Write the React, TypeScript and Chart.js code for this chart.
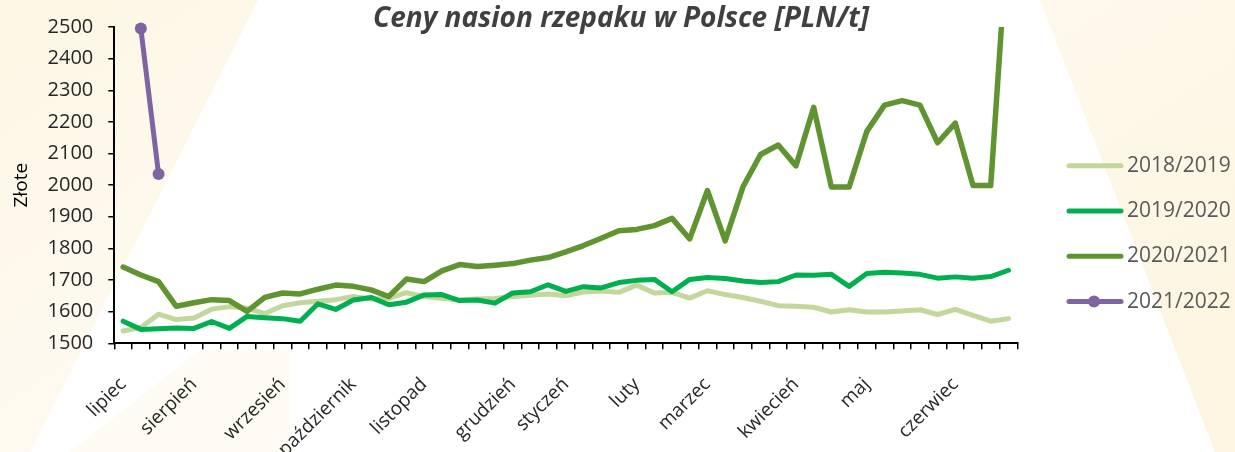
import React, { useEffect, useRef } from 'react';
import { Chart, registerables } from 'chart.js';

Chart.register(...registerables);

const weekLabels: string[] = [
  'lipiec', '', '', '', 'sierpień', '', '', '', '', 'wrzesień', '', '', '',
  'październik', '', '', '', 'listopad', '', '', '', '', 'grudzień', '', '',
  'styczeń', '', '', '', 'luty', '', '', '', 'marzec', '', '', '', '',
  'kwiecień', '', '', '', 'maj', '', '', '', '', 'czerwiec', '', '', '',
];

const seasonNames: string[] = ['2018/2019', '2019/2020', '2020/2021', '2021/2022'];

const prices2018: number[] = [
  1539, 1550, 1592, 1575, 1580, 1608, 1616, 1611, 1594, 1619,
  1628, 1633, 1638, 1648, 1640, 1642, 1660, 1648, 1642, 1637,
  1640, 1642, 1648, 1652, 1656, 1650, 1662, 1665, 1661, 1684,
  1659, 1661, 1643, 1666, 1654, 1645, 1633, 1619, 1617, 1614,
  1599, 1606, 1599, 1599, 1602, 1606, 1591, 1607, 1588, 1570,
  1578,
];

const prices2019: number[] = [
  1570, 1544, 1546, 1548, 1547, 1569, 1547, 1585, 1581, 1578,
  1570, 1625, 1607, 1637, 1645, 1622, 1630, 1653, 1654, 1635,
  1637, 1627, 1659, 1663, 1685, 1664, 1679, 1675, 1692, 1699,
  1702, 1663, 1702, 1708, 1705, 1697, 1692, 1695, 1716, 1715,
  1718, 1680, 1721, 1725, 1722, 1718, 1706, 1710, 1706, 1711,
  1731,
];

const prices2020: number[] = [
  1741, 1716, 1695, 1617, 1628, 1638, 1635, 1601, 1645, 1659,
  1656, 1671, 1684, 1680, 1669, 1648, 1703, 1695, 1729, 1749,
  1743, 1747, 1752, 1763, 1771, 1789, 1809, 1832, 1856, 1860,
  1872, 1895, 1830, 1983, 1824, 1994, 2097, 2127, 2061, 2246,
  1994, 1994, 2170, 2253, 2267, 2253, 2134, 2196, 1999, 1999,
  2830,
];

const prices2021: (number | null)[] = [null, 2495, 2035];

const seasonColors: string[] = ['#C3D69B', '#00B050', '#5F9430', '#8064A2'];

const yMin = 1500;
const yMax = 2500;
const yStep = 100;

const titleText = 'Ceny nasion rzepaku w Polsce [PLN/t]';
const yAxisTitle = 'Złote';

const backgroundPlugin = {
  id: 'rays',
  beforeDraw(chart: any) {
    const { ctx, width, height } = chart;
    ctx.save();
    ctx.fillStyle = '#ffffff';
    ctx.fillRect(0, 0, width, height);
    // left ray
    let g = ctx.createLinearGradient(0, 0, 200, 300);
    g.addColorStop(0, 'rgba(253,246,228,1)');
    g.addColorStop(1, 'rgba(254,250,240,1)');
    ctx.fillStyle = g;
    ctx.beginPath();
    ctx.moveTo(0, 0);
    ctx.lineTo(258, 0);
    ctx.lineTo(30, 452);
    ctx.lineTo(0, 452);
    ctx.closePath();
    ctx.fill();
    // bottom faint fan
    ctx.fillStyle = 'rgba(254,251,242,1)';
    ctx.beginPath();
    ctx.moveTo(70, 452);
    ctx.lineTo(200, 350);
    ctx.lineTo(290, 350);
    ctx.lineTo(290, 452);
    ctx.closePath();
    ctx.fill();
    // right ray
    g = ctx.createLinearGradient(1040, 0, 1235, 300);
    g.addColorStop(0, 'rgba(254,249,236,1)');
    g.addColorStop(1, 'rgba(253,245,226,1)');
    ctx.fillStyle = g;
    ctx.beginPath();
    ctx.moveTo(1040, 0);
    ctx.lineTo(1235, 0);
    ctx.lineTo(1235, 452);
    ctx.lineTo(1215, 452);
    ctx.closePath();
    ctx.fill();
    ctx.restore();
  },
};

const titleLegendPlugin = {
  id: 'titleLegend',
  afterDraw(chart: any) {
    const { ctx } = chart;
    ctx.save();
    ctx.font = 'italic bold 28px "Open Sans"';
    ctx.fillStyle = '#404040';
    ctx.textAlign = 'center';
    ctx.textBaseline = 'alphabetic';
    ctx.fillText(titleText, 621, 27);

    chart.data.datasets.forEach((ds: any, i: number) => {
      const y = 165.7 + 45.3 * i;
      ctx.strokeStyle = ds.borderColor;
      ctx.lineWidth = 5;
      ctx.lineCap = 'round';
      ctx.beginPath();
      ctx.moveTo(1069, y);
      ctx.lineTo(1121, y);
      ctx.stroke();
      if (ds.pointRadius > 0) {
        ctx.fillStyle = ds.borderColor;
        ctx.beginPath();
        ctx.arc(1094, y, 6, 0, Math.PI * 2);
        ctx.fill();
      }
      ctx.fillStyle = '#595959';
      ctx.font = '21px "Open Sans"';
      ctx.textAlign = 'left';
      ctx.textBaseline = 'middle';
      ctx.fillText(ds.label, 1127, y);
    });
    ctx.restore();
  },
};

export default function App() {
  const canvasRef = useRef<HTMLCanvasElement | null>(null);

  useEffect(() => {
    document.body.style.margin = '0';
    const canvas = canvasRef.current;
    if (!canvas) return;
    const seriesData = [prices2018, prices2019, prices2020, prices2021];
    const chart = new Chart(canvas, {
      type: 'line',
      data: {
        labels: weekLabels,
        datasets: seriesData.map((d, i) => ({
          label: seasonNames[i],
          data: d,
          borderColor: seasonColors[i],
          backgroundColor: seasonColors[i],
          borderWidth: i === 2 ? 5.5 : 5,
          pointRadius: i === 3 ? 6 : 0,
          pointHoverRadius: i === 3 ? 6 : 0,
          pointBorderWidth: 0,
          pointBackgroundColor: seasonColors[i],
          tension: 0,
          borderJoinStyle: 'round',
          borderCapStyle: 'round',
          spanGaps: false,
          order: 4 - i,
          clip: i === 2 ? { left: 5, right: 5, top: 0, bottom: 5 } : 8,
        })) as any,
      },
      options: {
        responsive: false,
        animation: false,
        devicePixelRatio: 1,
        layout: { padding: { left: 0, right: 217.7, top: 22.6, bottom: 0 } },
        plugins: {
          legend: { display: false },
          title: { display: false },
          tooltip: { enabled: false },
        },
        scales: {
          x: {
            type: 'category',
            offset: true,
            afterFit: (scale: any) => {
              scale.height = 108.7;
            },
            grid: {
              display: true,
              offset: true,
              drawOnChartArea: false,
              drawTicks: true,
              tickLength: 6,
              color: '#000000',
              lineWidth: 1.5,
            },
            border: { display: true, color: '#000000', width: 2 },
            ticks: {
              autoSkip: false,
              maxRotation: 45,
              minRotation: 45,
              padding: 24,
              color: '#262626',
              font: { family: '"Open Sans"', size: 19 },
            },
          },
          y: {
            min: yMin,
            max: yMax,
            afterFit: (scale: any) => {
              scale.width = 114.3;
            },
            grid: {
              display: true,
              drawOnChartArea: false,
              drawTicks: true,
              tickLength: 6,
              color: '#000000',
              lineWidth: 1.5,
            },
            border: { display: true, color: '#000000', width: 2 },
            ticks: {
              stepSize: yStep,
              padding: 15,
              color: '#262626',
              font: { family: '"Open Sans"', size: 20 },
              callback: (v: any) => String(v),
            },
            title: {
              display: true,
              text: yAxisTitle,
              color: '#000000',
              font: { family: '"Open Sans"', size: 19 },
              padding: { top: 10, bottom: 0 },
            },
          },
        },
      },
      plugins: [backgroundPlugin, titleLegendPlugin],
    });
    return () => {
      chart.destroy();
    };
  }, []);

  return (
    <div style={{ width: 1235, height: 452 }}>
      <canvas ref={canvasRef} width={1235} height={452} style={{ display: 'block', width: 1235, height: 452 }} />
    </div>
  );
}
